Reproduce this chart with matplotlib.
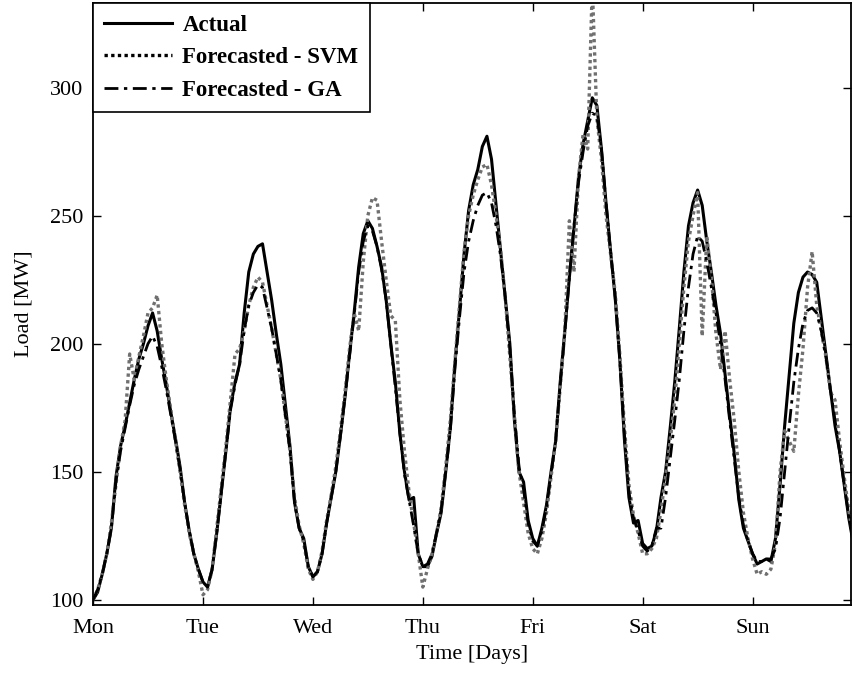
import matplotlib
matplotlib.use("Agg")
import matplotlib.pyplot as plt

# hourly load, Mon 00:00 .. Sun 22:00
actual = [100, 103, 110, 118, 128, 148, 160, 168, 177, 186, 194, 200, 207, 212, 205, 194, 184, 173, 163, 152, 138, 127, 118, 112, 107,
          105, 112, 126, 142, 158, 175, 185, 192, 212, 228, 235, 238, 239, 228, 217, 204, 192, 176, 160, 138, 128, 124, 113, 109,
          111, 118, 130, 140, 150, 164, 179, 196, 212, 230, 243, 248, 245, 238, 230, 217, 200, 185, 165, 150, 139, 140, 118, 113,
          113, 117, 126, 134, 150, 167, 192, 213, 235, 252, 262, 268, 277, 281, 272, 254, 236, 218, 200, 170, 150, 146, 131, 124,
          121, 128, 137, 150, 162, 185, 205, 226, 245, 265, 278, 287, 296, 293, 276, 255, 236, 218, 194, 163, 140, 130, 131, 122,
          120, 121, 127, 140, 150, 167, 185, 206, 228, 246, 255, 260, 254, 240, 228, 215, 204, 188, 172, 157, 139, 128, 123, 118,
          114, 115, 116, 115, 124, 145, 168, 188, 208, 220, 226, 228, 227, 224, 210, 196, 182, 168, 158, 145, 132, 122]

svm = [100, 104, 110, 118, 130, 145, 160, 170, 196, 186, 195, 203, 212, 214, 219, 200, 186, 174, 162, 150, 137, 126, 118, 111, 102,
       104, 112, 128, 144, 160, 178, 196, 198, 205, 215, 222, 226, 224, 215, 206, 196, 186, 172, 158, 140, 129, 122, 112, 108,
       111, 119, 131, 141, 152, 166, 181, 198, 212, 205, 232, 250, 257, 256, 240, 225, 211, 209, 178, 158, 142, 130, 118, 105,
       112, 118, 126, 136, 152, 170, 193, 215, 236, 250, 258, 264, 269, 270, 262, 250, 236, 218, 195, 172, 150, 138, 126, 120,
       118, 124, 134, 148, 162, 183, 205, 248, 228, 265, 282, 276, 340, 288, 272, 250, 235, 220, 196, 168, 145, 133, 126, 118,
       118, 120, 124, 135, 148, 162, 178, 200, 222, 240, 250, 259, 203, 242, 226, 204, 190, 205, 186, 170, 150, 134, 124, 116,
       110, 111, 110, 112, 122, 150, 166, 162, 158, 180, 198, 222, 236, 215, 205, 195, 181, 178, 162, 148, 135, 124]

ga = [100, 104, 110, 118, 128, 146, 158, 167, 176, 184, 190, 195, 200, 203, 199, 191, 182, 172, 162, 151, 138, 127, 118, 112, 107,
      105, 112, 126, 142, 158, 174, 184, 192, 205, 215, 220, 223, 222, 214, 206, 196, 186, 172, 158, 138, 128, 123, 113, 109,
      111, 118, 130, 140, 150, 164, 179, 195, 211, 228, 240, 246, 244, 238, 229, 217, 200, 183, 165, 149, 139, 129, 118, 113,
      114, 118, 126, 135, 150, 166, 190, 210, 228, 240, 248, 254, 258, 259, 255, 246, 234, 218, 198, 172, 152, 143, 130, 123,
      121, 127, 136, 149, 162, 184, 204, 226, 246, 263, 275, 285, 290, 289, 276, 255, 236, 218, 194, 165, 142, 132, 127, 121,
      119, 121, 128, 128, 140, 155, 170, 186, 205, 222, 235, 242, 240, 232, 222, 212, 200, 186, 170, 155, 140, 129, 123, 118,
      115, 115, 116, 116, 120, 132, 150, 168, 185, 198, 208, 213, 214, 212, 205, 195, 182, 170, 158, 145, 133, 123]

hours = list(range(len(actual)))
day_ticks = [0, 24, 48, 72, 96, 120, 144]
day_labels = ['Mon', 'Tue', 'Wed', 'Thu', 'Fri', 'Sat', 'Sun']

plt.rcParams['font.family'] = ['Liberation Serif', 'DejaVu Serif']
plt.rcParams['font.size'] = 16

fig = plt.figure(figsize=(8.52, 6.73), dpi=100)
ax = fig.add_axes([0.1092, 0.101, 0.8897, 0.8945])

ax.plot(hours, actual, color='black', lw=2.2, label='Actual')
ax.plot(hours, svm, color='#707070', lw=2.4, linestyle=(0, (1, 1)), label='Forecasted - SVM')
ax.plot(hours, ga, color='black', lw=2.0, linestyle=(0, (5, 2, 1.2, 2)), label='Forecasted - GA')

ax.set_xlim(0, 165.5)
ax.set_ylim(98, 333)
ax.set_xticks(day_ticks)
ax.set_xticklabels(day_labels)
ax.set_yticks([100, 150, 200, 250, 300])
ax.tick_params(direction='in', length=6, width=1, top=True, right=True, labelsize=16)
ax.tick_params(axis='x', pad=10)
ax.tick_params(axis='y', pad=7)
for s in ax.spines.values():
    s.set_linewidth(1.3)

ax.set_xlabel('Time [Days]', fontsize=16, labelpad=5)
ax.set_ylabel('Load [MW]', fontsize=16, labelpad=12)

leg = ax.legend(loc='upper left', borderaxespad=0, fancybox=False, framealpha=1,
                edgecolor='black', handlelength=2.95, handletextpad=0.45,
                labelspacing=0.5, borderpad=0.5,
                prop={'size': 16.5, 'weight': 'bold'})
leg.get_frame().set_linewidth(1.2)
for h in leg.get_lines():
    h.set_color('black')

fig.savefig('out.png', dpi=100)
